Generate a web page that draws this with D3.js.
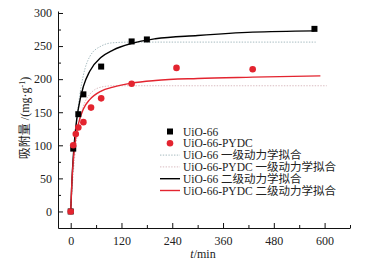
<!DOCTYPE html>
<html lang="en">
<head>
  <meta charset="UTF-8">
  <title>UiO-66 adsorption kinetics</title>
  <script src="https://d3js.org/d3.v7.min.js"></script>
  <style>
    body { margin: 0; background: #fff; }
    svg text { font-family: "Liberation Serif", "Times New Roman", "Noto Sans CJK SC", serif; fill: #222; }
    .axis path, .axis line { stroke: #111; }
    .axis text { font-size: 12px; }
    .legend text { font-size: 11.5px; }
  </style>
</head>
<body>
<svg width="376" height="268"></svg>

<script>
// measured points
const uioT  = [0, 6, 18, 30, 72, 144, 180, 576];
const uioQ  = [0, 95, 147, 177, 219, 257, 260, 276];
const pydcT = [0, 6, 12, 18, 30, 48, 72, 144, 250, 430];
const pydcQ = [0, 100, 117, 127, 135, 157, 171, 193, 217, 215];

// fitted curves
const uioFit1T  = [0, 3, 6, 12, 18, 30, 45, 72, 100, 144, 300, 579];
const uioFit1Q  = [0, 39, 72, 123, 160, 206, 234, 250, 255, 256, 256, 256];
const pydcFit1T = [0, 3, 6, 12, 18, 30, 45, 72, 100, 144, 300, 605];
const pydcFit1Q = [0, 31, 57, 98, 125, 159, 177, 188, 190, 190, 190, 190];
const uioFit2T  = [0, 3, 6, 12, 18, 30, 45, 72, 100, 144, 200, 300, 430, 576];
const uioFit2Q  = [0, 48, 82, 127, 155, 189, 212, 233, 244, 254, 261, 266, 271, 273];
const pydcFit2T = [0, 3, 6, 12, 18, 30, 45, 72, 100, 144, 200, 300, 430, 590];
const pydcFit2Q = [0, 47, 76, 112, 132, 155, 169, 182, 188, 194, 198, 201, 203, 205];

const xTicks = [0, 120, 240, 360, 480, 600];
const yTicks = [0, 50, 100, 150, 200, 250, 300];

const legendLabels = ["UiO-66", "UiO-66-PYDC", "UiO-66 一级动力学拟合", "UiO-66-PYDC 一级动力学拟合",
                      "UiO-66 二级动力学拟合", "UiO-66-PYDC 二级动力学拟合"];

const red = "#e3242f";

const svg = d3.select("svg");
const x = d3.scaleLinear().domain([-30, 660]).range([58, 350]);
const y = d3.scaleLinear().domain([-25, 303]).range([228, 11]);

const zip = (ts, qs) => ts.map((t, i) => ({ t: t, q: qs[i] }));
const line = d3.line().x(d => x(d.t)).y(d => y(d.q)).curve(d3.curveMonotoneX);

// Axes (ticks point inward)
svg.append("g").attr("class", "axis")
  .attr("transform", "translate(0,228)")
  .call(d3.axisBottom(x).tickValues(d3.range(60, 661, 120)).tickSize(-3).tickFormat(""))
  .call(g => g.select(".domain").remove());
const xAxis = svg.append("g").attr("class", "axis")
  .attr("transform", "translate(0,228)")
  .call(d3.axisBottom(x).tickValues(xTicks).tickSize(-5).tickSizeOuter(0));
xAxis.selectAll(".tick text")
  .attr("y", 8)
  .attr("dy", "0.71em");

svg.append("g").attr("class", "axis")
  .attr("transform", "translate(58,0)")
  .call(d3.axisLeft(y).tickValues(d3.range(25, 300, 50)).tickSize(-3).tickFormat(""))
  .call(g => g.select(".domain").remove());
svg.append("g").attr("class", "axis")
  .attr("transform", "translate(58,0)")
  .call(d3.axisLeft(y).tickValues(yTicks).tickSize(-5).tickSizeOuter(0).tickPadding(6));

// Axis labels
svg.append("text")
  .attr("x", 203).attr("y", 258)
  .attr("text-anchor", "middle")
  .style("font-size", "12px")
  .html('<tspan font-style="italic">t</tspan>/min');

const yl = svg.append("text")
  .attr("transform", "translate(29,118) rotate(-90)")
  .attr("text-anchor", "middle")
  .style("font-size", "12px");
yl.append("tspan").text("吸附量 /(mg·g");
yl.append("tspan").attr("dy", -4).style("font-size", "8px").text("-1");
yl.append("tspan").attr("dy", 4).text(")");

// Fit curves
const fits = [
  { pts: zip(uioFit1T, uioFit1Q), color: "#8fa9b0", dash: "1.4,1.4", w: 0.8 },
  { pts: zip(pydcFit1T, pydcFit1Q), color: "#cfa9b0", dash: "1.4,1.4", w: 0.8 },
  { pts: zip(uioFit2T, uioFit2Q), color: "#000", dash: null, w: 1.4 },
  { pts: zip(pydcFit2T, pydcFit2Q), color: red, dash: null, w: 1.4 }
];
svg.selectAll(".fit")
  .data(fits)
  .enter().append("path")
  .attr("class", "fit")
  .attr("d", d => line(d.pts))
  .attr("fill", "none")
  .attr("stroke", d => d.color)
  .attr("stroke-width", d => d.w)
  .attr("stroke-dasharray", d => d.dash);

// Data markers
svg.selectAll(".sq")
  .data(zip(uioT, uioQ))
  .enter().append("rect")
  .attr("class", "sq")
  .attr("x", d => x(d.t) - 3).attr("y", d => y(d.q) - 3)
  .attr("width", 6).attr("height", 6)
  .attr("fill", "#000");

svg.selectAll(".dot")
  .data(zip(pydcT, pydcQ))
  .enter().append("circle")
  .attr("class", "dot")
  .attr("cx", d => x(d.t)).attr("cy", d => y(d.q))
  .attr("r", 3.3)
  .attr("fill", red);

// Legend
const legend = svg.append("g").attr("class", "legend");
const rows = legend.selectAll("g")
  .data(legendLabels)
  .enter().append("g")
  .attr("transform", (d, i) => `translate(0,${131.5 + i * 11.8})`);

rows.append("text")
  .attr("x", 183).attr("y", 4)
  .text(d => d);

rows.filter((d, i) => i === 0).append("rect")
  .attr("x", 167).attr("y", -3).attr("width", 6).attr("height", 6).attr("fill", "#000");
rows.filter((d, i) => i === 1).append("circle")
  .attr("cx", 170).attr("cy", 0).attr("r", 3.3).attr("fill", red);
rows.filter((d, i) => i >= 2).append("line")
  .attr("x1", 160).attr("x2", 180).attr("y1", 0).attr("y2", 0)
  .attr("stroke", (d, i) => fits[i].color)
  .attr("stroke-width", (d, i) => fits[i].w)
  .attr("stroke-dasharray", (d, i) => fits[i].dash);
</script>
</body>
</html>
